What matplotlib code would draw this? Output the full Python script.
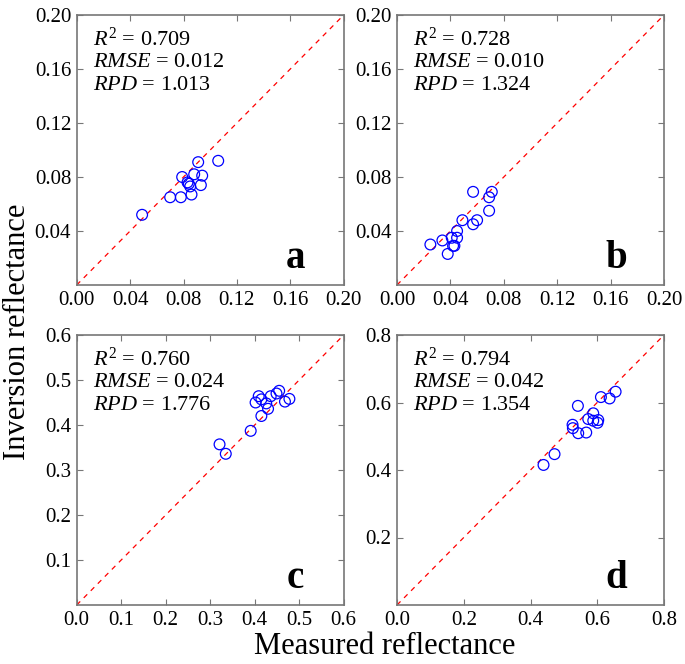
import matplotlib
matplotlib.use("Agg")
import matplotlib.pyplot as plt

plt.rcParams['font.family'] = ['Liberation Serif', 'DejaVu Serif']
plt.rcParams['mathtext.fontset'] = 'custom'
plt.rcParams['mathtext.rm'] = 'Liberation Serif'
plt.rcParams['mathtext.it'] = 'Liberation Serif:italic'

a_x = [0.049, 0.070, 0.078, 0.086, 0.079, 0.083, 0.084, 0.085, 0.088, 0.094, 0.091, 0.093, 0.106]
a_y = [0.052, 0.065, 0.065, 0.067, 0.080, 0.076, 0.075, 0.073, 0.082, 0.081, 0.091, 0.074, 0.092]

b_x = [0.025, 0.034, 0.038, 0.041, 0.042, 0.043, 0.045, 0.045, 0.049, 0.057, 0.057, 0.060, 0.069, 0.069, 0.071]
b_y = [0.030, 0.033, 0.023, 0.035, 0.029, 0.029, 0.040, 0.035, 0.048, 0.045, 0.069, 0.048, 0.055, 0.065, 0.069]

c_x = [0.321, 0.335, 0.391, 0.415, 0.430, 0.426, 0.402, 0.409, 0.415, 0.436, 0.449, 0.455, 0.468, 0.478]
c_y = [0.357, 0.336, 0.387, 0.420, 0.436, 0.448, 0.450, 0.464, 0.457, 0.464, 0.470, 0.476, 0.452, 0.458]

d_x = [0.439, 0.472, 0.526, 0.527, 0.543, 0.567, 0.542, 0.573, 0.588, 0.588, 0.603, 0.601, 0.611, 0.637, 0.655]
d_y = [0.415, 0.447, 0.534, 0.524, 0.509, 0.511, 0.590, 0.551, 0.568, 0.546, 0.548, 0.540, 0.616, 0.612, 0.632]

limits = [0.20, 0.20, 0.6, 0.8]
ticks = [[0.00, 0.04, 0.08, 0.12, 0.16, 0.20],
         [0.00, 0.04, 0.08, 0.12, 0.16, 0.20],
         [0.0, 0.1, 0.2, 0.3, 0.4, 0.5, 0.6],
         [0.0, 0.2, 0.4, 0.6, 0.8]]
tick_fmt = ['{:.2f}', '{:.2f}', '{:.1f}', '{:.1f}']
r2 = ['0.709', '0.728', '0.760', '0.794']
rmse = ['0.012', '0.010', '0.024', '0.042']
rpd = ['1.013', '1.324', '1.776', '1.354']
letters = ['a', 'b', 'c', 'd']
xs = [a_x, b_x, c_x, d_x]
ys = [a_y, b_y, c_y, d_y]

W, H = 685, 664
fig = plt.figure(figsize=(W / 100, H / 100), dpi=100)
lefts = [76.7, 397, 76.7, 397]
tops = [15, 15, 335, 335]
aw, ah = 267, 270

for i in range(4):
    ax = fig.add_axes([lefts[i] / W, 1 - (tops[i] + ah) / H, aw / W, ah / H])
    lim = limits[i]
    ax.plot([0, lim], [0, lim], linestyle=(0, (4, 4)), color='red', lw=0.9)
    ax.scatter(xs[i], ys[i], s=60, facecolors='none', edgecolors='blue', linewidths=0.9, zorder=3)
    ax.set_xlim(0, lim)
    ax.set_ylim(0, lim)
    t = ticks[i]
    ax.set_xticks(t)
    ax.set_yticks(t[1:])
    ax.set_xticklabels([tick_fmt[i].format(v) for v in t])
    ax.set_yticklabels([tick_fmt[i].format(v) for v in t[1:]])
    ax.tick_params(direction='in', length=4, width=0.8, color='#777777',
                   top=True, right=True, labelsize=15, pad=4)
    for sp in ax.spines.values():
        sp.set_color('#777777')
        sp.set_linewidth(1.2)
    ax.text(0.06, 0.91, r'$R^2$ = ' + r2[i], transform=ax.transAxes, fontsize=16, va='center')
    ax.text(0.06, 0.825, r'$RMSE$ = ' + rmse[i], transform=ax.transAxes, fontsize=16, va='center')
    ax.text(0.06, 0.74, r'$RPD$ = ' + rpd[i], transform=ax.transAxes, fontsize=16, va='center')
    ax.text(0.82, 0.10, letters[i], transform=ax.transAxes, fontsize=28, fontweight='bold',
            ha='center', va='center')

fig.text(18 / W, 0.5, 'Inversion reflectance', rotation=90, fontsize=22, ha='center', va='center')
fig.text(385 / W, 1 - 646 / H, 'Measured reflectance', fontsize=22, ha='center', va='center')

fig.savefig('out.png', dpi=100)
